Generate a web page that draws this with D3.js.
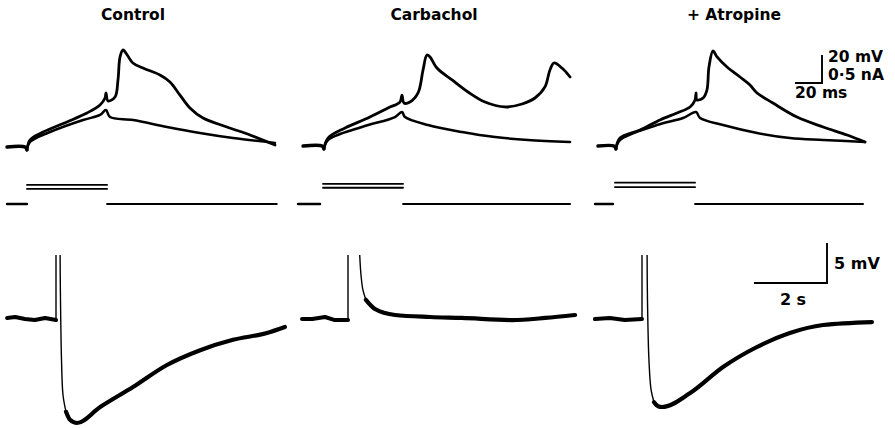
<!DOCTYPE html>
<html>
<head>
<meta charset="utf-8">
<script src="https://cdn.jsdelivr.net/npm/d3@7"></script>
<style>
  html, body { margin: 0; padding: 0; background: #fff; }
  svg { display: block; }
  text { font-family: "DejaVu Sans", "Liberation Sans", sans-serif; font-weight: bold; fill: #000; }
</style>
</head>
<body>
<script>
// ---------- Data ----------
const conditions = ["Control", "Carbachol", "+ Atropine"];

// Fast records: [time (ms) from current onset, membrane potential (mV) relative to rest]
// Baseline before the pulse, shared by both sweeps
const fastBaseline = [
  [[-14.8, 0], [-1.5, 0], [0, -2.1]],
  [[-14.8, 0.7], [-0.7, 0.7], [0.7, -1.4]],
  [[-12.6, 0.7], [-0.7, 0.7], [0.7, -1.4]]
];
// Larger current sweep (fires a spike)
const fastSpike = [
  [[0, -2.1], [2.2, 5.0], [11.9, 10.7], [29.6, 17.9], [44.4, 24.3], [54.1, 30.0], [57.8, 35.0], [58.5, 38.6],
   [60.0, 32.9], [65.2, 35.7], [67.4, 47.9], [68.9, 64.3], [71.1, 69.3], [73.3, 67.1], [78.5, 60.0],
   [85.9, 56.4], [98.5, 51.4], [105.9, 46.4], [113.3, 37.1], [120.7, 27.9], [130.4, 20.7], [148.1, 14.3],
   [165.2, 8.6], [183.7, 1.4]],
  [[0.7, -1.4], [3.7, 6.4], [16.3, 13.6], [33.3, 20.7], [48.1, 27.9], [57.0, 32.1], [58.5, 37.1], [60.0, 31.4],
   [64.4, 32.1], [70.4, 38.6], [74.1, 55.0], [77.0, 65.7], [79.3, 64.3], [84.4, 56.4], [95.6, 47.9],
   [107.4, 39.3], [120.0, 32.1], [134.8, 28.6], [147.4, 30.7], [157.0, 35.0], [164.4, 42.9], [168.1, 55.0],
   [171.1, 60.0], [177.0, 56.4], [183.0, 50.0]],
  [[0.7, -1.4], [3.7, 6.4], [18.5, 12.1], [33.3, 19.3], [45.9, 24.3], [55.6, 28.6], [59.3, 33.6], [60.0, 38.6],
   [60.7, 33.6], [65.2, 35.0], [68.1, 40.7], [69.6, 57.1], [72.6, 68.6], [75.6, 64.3], [83.0, 57.1],
   [92.6, 50.0], [100.0, 44.3], [105.2, 38.6], [117.0, 31.4], [134.8, 21.4], [154.1, 14.3], [171.9, 8.6],
   [185.2, 3.6]]
];
// Subthreshold sweep
const fastSub = [
  [[0, -2.1], [2.2, 3.6], [17.0, 10.7], [41.5, 19.3], [54.1, 22.9], [58.5, 26.4], [61.5, 21.4], [78.5, 19.3],
   [103.7, 14.3], [128.1, 10.0], [152.6, 6.4], [183.7, 2.9]],
  [[0.7, -1.4], [3.7, 5.0], [28.9, 14.3], [53.3, 21.4], [58.5, 25.0], [60.7, 21.4], [77.8, 15.7],
   [103.0, 10.7], [127.4, 7.1], [151.9, 5.0], [183.0, 3.6]],
  [[0.7, -1.4], [3.7, 5.0], [31.1, 15.7], [50.4, 20.7], [60.0, 25.0], [63.0, 20.7], [80.0, 15.7],
   [105.2, 10.0], [129.6, 6.4], [154.1, 5.0], [185.2, 3.6]]
];

// Injected current (nA): holding segments and the two pulse amplitudes
const currentPre = [[-14.8, 0], [-18.5, -2.2], [-14.8, -1.5]];
const currentPulse = [[0, 59.3], [0, 59.3], [0, 59.3]];
const currentPost = [[59.3, 185], [59.3, 183], [59.3, 183.7]];
const pulseAmps = [[0.34, 0.27], [0.36, 0.29], [0.38, 0.30]];

// Slow records: [time (s) from train onset, potential (mV)]
const slowBaseline = [
  [[-1.34, 0.13], [-1.12, 0.25], [-0.85, 0], [-0.58, -0.13], [-0.30, 0.13], [0, -0.13]],
  [[-1.26, 0], [-0.98, 0], [-0.63, 0.25], [-0.36, -0.13], [0, -0.13]],
  [[-1.29, 0], [-0.88, 0.13], [-0.47, -0.13], [0, 0]]
];
// Off-scale excursion during the train
const slowUp = [
  [[0, -0.13], [0, 11.1]],
  [[0, -0.13], [0, 11.1]],
  [[0, 0], [0, 11.1]]
];
// Rapid return from off-scale
const slowReturn = [
  [[0.11, 11.1], [0.115, 6.0], [0.123, 2.4], [0.151, -5.1], [0.192, -9.5], [0.274, -11.6]],
  [[0.30, 11.1], [0.315, 8.6], [0.356, 5.5], [0.41, 3.6], [0.49, 2.4]],
  [[0.137, 11.1], [0.142, 6.0], [0.15, 2.4], [0.19, -5.1], [0.25, -8.9], [0.33, -10.4]]
];
// Slow after-potential
const slowAfter = [
  [[0.274, -11.6], [0.384, -12.6], [0.575, -13.0], [1.21, -11.0], [2.11, -8.5], [3.04, -5.75], [3.95, -3.9],
   [4.85, -2.6], [5.78, -1.75], [6.27, -1.0]],
  [[0.49, 2.4], [0.74, 1.25], [1.29, 0.5], [2.25, 0.25], [3.12, 0.13], [4.49, -0.13], [5.40, 0.13],
   [6.22, 0.5]],
  [[0.33, -10.4], [0.44, -10.9], [0.55, -11.0], [1.32, -9.25], [2.22, -6.0], [3.15, -3.5], [4.05, -1.75],
   [4.96, -0.75], [6.30, -0.38]]
];

const fastScaleLabels = ["20 mV", "0·5 nA", "20 ms"];
const slowScaleLabels = ["5 mV", "2 s"];

// ---------- Layout ----------
const W = 895, H = 428;
const fastOrigin = [27, 323, 615];
const slowOrigin = [56, 348, 642];
const titleX = [133, 434, 734];

const svg = d3.select("body").append("svg").attr("width", W).attr("height", H);

const yFast = d3.scaleLinear().domain([0, 20]).range([147, 119]);
const yCur = d3.scaleLinear().domain([0, 0.5]).range([204, 176]);
const ySlow = d3.scaleLinear().domain([0, 5]).range([319, 279]);

svg.append("clipPath").attr("id", "slowClip")
  .append("rect").attr("x", 0).attr("y", 255).attr("width", W).attr("height", H - 255);

conditions.forEach((name, i) => {
  const xFast = d3.scaleLinear().domain([0, 20]).range([fastOrigin[i], fastOrigin[i] + 27]);
  const xSlow = d3.scaleLinear().domain([0, 2]).range([slowOrigin[i], slowOrigin[i] + 73]);

  svg.append("text").attr("x", titleX[i]).attr("y", 20)
    .attr("text-anchor", "middle").attr("font-size", 15.5).text(name);

  const lineF = d3.line().x(d => xFast(d[0])).y(d => yFast(d[1])).curve(d3.curveCatmullRom.alpha(0.5));
  const g = svg.append("g").attr("fill", "none").attr("stroke", "#000")
    .attr("stroke-linecap", "round").attr("stroke-linejoin", "round");

  g.append("path").attr("d", lineF(fastBaseline[i])).attr("stroke-width", 3.4);
  g.append("path").attr("d", lineF(fastSub[i])).attr("stroke-width", 2.5);
  g.append("path").attr("d", lineF(fastSpike[i])).attr("stroke-width", 2.8);

  // Current monitor
  const lineC = d3.line().x(d => xFast(d[0])).y(d => yCur(d[1]));
  g.append("path").attr("d", lineC([[currentPre[i][0], 0], [currentPre[i][1], 0]])).attr("stroke-width", 2.4);
  pulseAmps[i].forEach(a => {
    g.append("path").attr("d", lineC([[currentPulse[i][0], a], [currentPulse[i][1], a]])).attr("stroke-width", 1.8);
  });
  g.append("path").attr("d", lineC([[currentPost[i][0], 0], [currentPost[i][1], 0]])).attr("stroke-width", 2);

  // Slow record
  const lineS = d3.line().x(d => xSlow(d[0])).y(d => ySlow(d[1]));
  const lineSc = d3.line().x(d => xSlow(d[0])).y(d => ySlow(d[1])).curve(d3.curveCatmullRom.alpha(0.5));
  const lineSm = d3.line().x(d => xSlow(d[0])).y(d => ySlow(d[1])).curve(d3.curveMonotoneX);
  const gs = svg.append("g").attr("clip-path", "url(#slowClip)").attr("fill", "none").attr("stroke", "#000")
    .attr("stroke-linecap", "round").attr("stroke-linejoin", "round");
  gs.append("path").attr("d", lineS(slowBaseline[i])).attr("stroke-width", 4);
  gs.append("path").attr("d", lineS(slowUp[i])).attr("stroke-width", 1.4);
  gs.append("path").attr("d", lineSc(slowReturn[i])).attr("stroke-width", 1.4);
  gs.append("path").attr("d", lineSm(slowAfter[i])).attr("stroke-width", 4.2);
});

// ---------- Calibration bars ----------
const cal = svg.append("g").attr("fill", "none").attr("stroke", "#000").attr("stroke-width", 1.9);
const fastBarX = 822, fastBarY = 83;
const fastV = yFast(0) - yFast(20), fastT = 27;
cal.append("path").attr("d", `M${fastBarX - fastT},${fastBarY}H${fastBarX}V${fastBarY - fastV}`);
svg.append("text").attr("x", 828).attr("y", 62).attr("font-size", 15.5).text(fastScaleLabels[0]);
svg.append("text").attr("x", 828).attr("y", 80).attr("font-size", 15.5).text(fastScaleLabels[1]);
svg.append("text").attr("x", 795).attr("y", 98).attr("font-size", 15.5).text(fastScaleLabels[2]);

const slowBarX = 827, slowBarY = 283;
const slowV = ySlow(0) - ySlow(5), slowT = 73;
cal.append("path").attr("d", `M${slowBarX - slowT},${slowBarY}H${slowBarX}V${slowBarY - slowV}`);
svg.append("text").attr("x", 834).attr("y", 269).attr("font-size", 16).text(slowScaleLabels[0]);
svg.append("text").attr("x", 793).attr("y", 305).attr("text-anchor", "middle").attr("font-size", 16).text(slowScaleLabels[1]);
</script>
</body>
</html>
